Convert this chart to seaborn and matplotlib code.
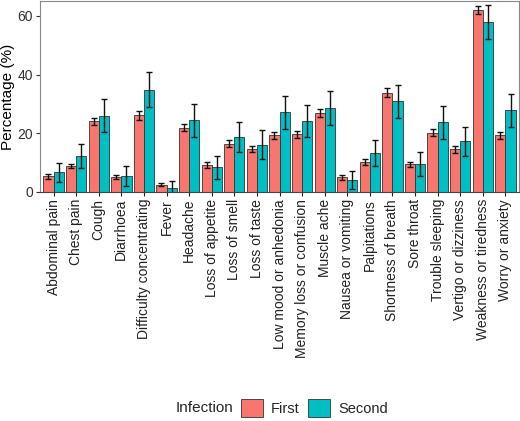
import matplotlib
matplotlib.use("Agg")
import matplotlib.pyplot as plt
import numpy as np
import pandas as pd
import seaborn as sns

symptoms = [
    "Abdominal pain", "Chest pain", "Cough", "Diarrhoea",
    "Difficulty concentrating", "Fever", "Headache", "Loss of appetite",
    "Loss of smell", "Loss of taste", "Low mood or anhedonia",
    "Memory loss or confusion", "Muscle ache", "Nausea or vomiting",
    "Palpitations", "Shortness of breath", "Sore throat",
    "Trouble sleeping", "Vertigo or dizziness", "Weakness or tiredness",
    "Worry or anxiety",
]
first = [5.3, 8.9, 24.1, 5.1, 26.1, 2.5, 21.9, 9.1, 16.5, 14.7, 19.3,
         19.7, 26.9, 5.0, 10.2, 33.9, 9.4, 20.2, 14.5, 61.9, 19.4]
first_err = [0.8, 0.8, 1.2, 0.7, 1.5, 0.5, 1.2, 1.0, 1.1, 1.1, 1.2,
             1.2, 1.4, 0.8, 1.0, 1.5, 0.8, 1.2, 1.1, 1.4, 1.2]
second = [6.7, 12.3, 26.0, 5.6, 34.9, 1.5, 24.5, 8.4, 18.7, 16.1, 27.2,
          24.2, 28.6, 4.0, 13.2, 30.9, 9.5, 23.7, 17.3, 57.8, 27.8]
second_err = [3.2, 4.2, 5.6, 3.4, 5.9, 2.3, 5.6, 4.0, 5.0, 4.9, 5.6,
              5.5, 5.7, 3.0, 4.5, 5.7, 4.0, 5.5, 4.9, 5.8, 5.7]
infections = ["First", "Second"]
colors = ["#F8766D", "#00BFC4"]

df = pd.DataFrame({
    "symptom": symptoms * 2,
    "infection": ["First"] * len(symptoms) + ["Second"] * len(symptoms),
    "pct": first + second,
    "err": first_err + second_err,
})

sns.set_style("white")
plt.rcParams["font.family"] = ["Liberation Sans", "DejaVu Sans"]

fig = plt.figure(figsize=(5.2, 4.21), dpi=100)
ax = fig.add_axes([40 / 520, 1 - 192 / 421, 479 / 520, 191 / 421])

sns.barplot(
    data=df, x="symptom", y="pct", hue="infection",
    order=symptoms, hue_order=infections, palette=colors,
    errorbar=None, width=0.9, edgecolor="#333333", linewidth=0.6,
    saturation=1, ax=ax,
)

# error bars at the bar centres seaborn produced
for cont, lvl in zip(ax.containers, infections):
    sub = df[df["infection"] == lvl].set_index("symptom").loc[symptoms]
    xs = [b.get_x() + b.get_width() / 2 for b in cont]
    ax.errorbar(xs, sub["pct"].values, yerr=sub["err"].values, fmt="none",
                ecolor="#111111", elinewidth=1.0, capsize=2.2, capthick=1.0)

ax.set_xlim(-0.6, len(symptoms) - 0.4)
ax.set_ylim(0, 65.1)
ax.set_yticks([0, 20, 40, 60])
ax.set_xlabel("")
ax.set_ylabel("Percentage (%)", fontsize=11, color="black", labelpad=2)
ax.tick_params(axis="x", labelrotation=90, labelsize=10, colors="#222222",
               length=3, width=0.8, direction="out", bottom=True, pad=2)
ax.tick_params(axis="y", labelsize=10, colors="#333333", length=3,
               width=0.8, left=True, pad=2)
for lab in ax.get_xticklabels():
    lab.set_va("top")
for side in ["top", "right", "left", "bottom"]:
    ax.spines[side].set_color("#888888")
    ax.spines[side].set_linewidth(0.8)
ax.spines["bottom"].set_color("#444444")

handles, labels = ax.get_legend_handles_labels()
ax.get_legend().remove()
fig.text(176 / 520, 1 - 408 / 421, "Infection", fontsize=11,
         ha="left", va="center")
fig.legend(handles, labels, loc="center left",
           bbox_to_anchor=(241 / 520, 1 - 408 / 421), ncol=2, frameon=False,
           fontsize=10.5, handlelength=1.5, handleheight=1.5, borderpad=0,
           columnspacing=0.6, handletextpad=0.55, borderaxespad=0)

fig.savefig("out.png", dpi=100)
